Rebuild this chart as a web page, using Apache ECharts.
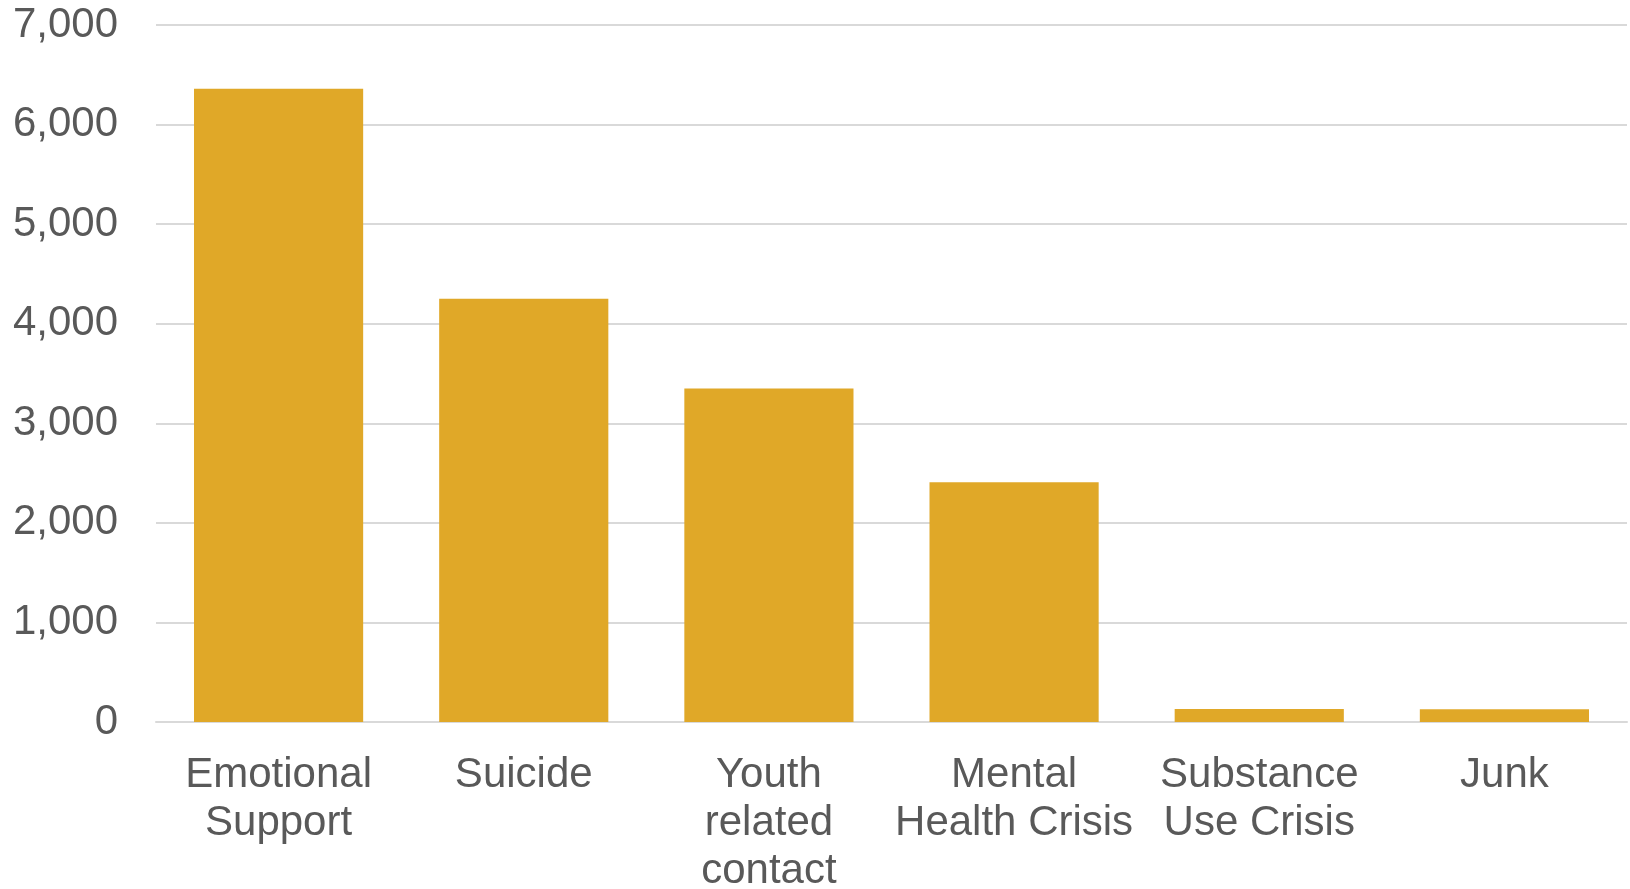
<!DOCTYPE html>
<html>
<head>
<meta charset="utf-8">
<script src="https://cdn.jsdelivr.net/npm/echarts@6/dist/echarts.min.js"></script>
<style>
  html, body { margin: 0; padding: 0; background: #fff; }
  #chart { width: 1630px; height: 889px; }
</style>
</head>
<body>
<div id="chart"></div>
<script>
// Contacts by category
const categories = ['Emotional Support', 'Suicide', 'Youth related contact', 'Mental Health Crisis', 'Substance Use Crisis', 'Junk'];
const contacts = [6360, 4250, 3350, 2407, 130, 128];
const yTicks = { min: 0, max: 7000, interval: 1000 };

const textColor = '#595959';
const gridColor = '#d9d9d9';
const barColor = '#E0A828';
const fontFamily = '"Liberation Sans", Arial, sans-serif';
const labelSize = 42;
const labelWidth = 242;

// Greedy word wrap so every line stays centred under its bar
const measureCtx = document.createElement('canvas').getContext('2d');
measureCtx.font = labelSize + 'px ' + fontFamily;
function wrapLabel(text) {
  const words = text.split(' ');
  const lines = [];
  let line = '';
  for (const w of words) {
    const trial = line ? line + ' ' + w : w;
    if (line && measureCtx.measureText(trial).width > labelWidth) {
      lines.push(line);
      line = w;
    } else {
      line = trial;
    }
  }
  if (line) lines.push(line);
  return lines.join('\n');
}

const chart = echarts.init(document.getElementById('chart'), null, { renderer: 'canvas' });
chart.setOption({
  animation: false,
  backgroundColor: '#ffffff',
  grid: { left: 156, right: 3, top: 25, bottom: 167, containLabel: false, outerBoundsMode: 'none' },
  xAxis: {
    type: 'category',
    data: categories,
    axisLine: { show: true, lineStyle: { color: gridColor, width: 2 } },
    axisTick: { show: false },
    axisLabel: {
      color: textColor,
      fontFamily: fontFamily,
      fontSize: labelSize,
      lineHeight: 48,
      margin: 29,
      interval: 0,
      align: 'center',
      formatter: wrapLabel
    }
  },
  yAxis: {
    type: 'value',
    min: yTicks.min,
    max: yTicks.max,
    interval: yTicks.interval,
    axisLine: { show: false },
    axisTick: { show: false },
    splitLine: { lineStyle: { color: gridColor, width: 2 } },
    axisLabel: {
      color: textColor,
      fontFamily: fontFamily,
      fontSize: labelSize,
      margin: 38,
      formatter: v => v.toLocaleString('en-US')
    }
  },
  series: [{
    type: 'bar',
    data: contacts,
    barCategoryGap: '31%',
    itemStyle: { color: barColor }
  }]
});
</script>
</body>
</html>
